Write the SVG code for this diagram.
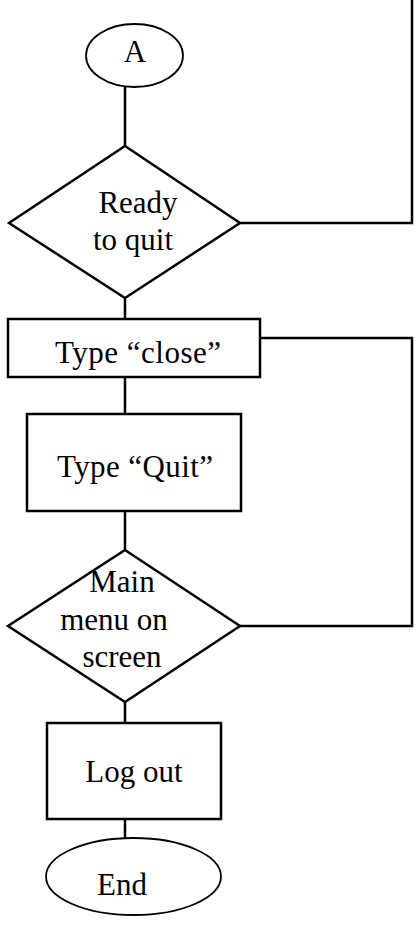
<svg xmlns="http://www.w3.org/2000/svg" width="416" height="928" viewBox="0 0 416 928">
  <style>
    .shape { fill: #ffffff; stroke: #000000; stroke-width: 2.5; }
    .oval { fill: #ffffff; stroke: #000000; stroke-width: 1.8; }
    .link { fill: none; stroke: #000000; stroke-width: 2.5; }
    .label { font-family: "Liberation Serif", "Times New Roman", serif; font-size: 31px; fill: #000000; text-anchor: middle; }
  </style>
  <rect width="416" height="928" fill="#ffffff"/>

  <!-- connectors -->
  <g id="connectors">
    <line class="link" x1="125" y1="87" x2="125" y2="146"/>
    <polyline class="link" points="240,223 412,223 412,0"/>
    <line class="link" x1="125" y1="298" x2="125" y2="319"/>
    <line class="link" x1="125" y1="377" x2="125" y2="414"/>
    <line class="link" x1="125" y1="511" x2="125" y2="550"/>
    <polyline class="link" points="240,626 412,626 412,338 260,338"/>
    <line class="link" x1="125" y1="702" x2="125" y2="723"/>
    <line class="link" x1="125" y1="819" x2="125" y2="838"/>
  </g>

  <g id="connector-a">
    <ellipse class="oval" cx="134.5" cy="55.5" rx="48.5" ry="31.5"/>
    <text class="label" x="135" y="62">A</text>
  </g>

  <g id="ready-to-quit">
    <polygon class="shape" points="125,146 240,223 125,298 9,223"/>
    <text class="label" x="138" y="213">Ready</text>
    <text class="label" x="133" y="250">to quit</text>
  </g>

  <g id="type-close">
    <rect class="shape" x="8" y="319" width="252" height="58"/>
    <text class="label" x="138" y="363" textLength="166" lengthAdjust="spacing">Type “close”</text>
  </g>

  <g id="type-quit">
    <rect class="shape" x="27" y="414" width="214" height="97"/>
    <text class="label" x="135" y="477" textLength="156" lengthAdjust="spacing">Type “Quit”</text>
  </g>

  <g id="main-menu-on-screen">
    <polygon class="shape" points="125,550 240,626 125,702 8,626"/>
    <text class="label" x="122" y="592">Main</text>
    <text class="label" x="114" y="630">menu on</text>
    <text class="label" x="122" y="667">screen</text>
  </g>

  <g id="log-out">
    <rect class="shape" x="47" y="723" width="174" height="96"/>
    <text class="label" x="134" y="782">Log out</text>
  </g>

  <g id="end">
    <ellipse class="oval" cx="133.5" cy="876.5" rx="87.5" ry="38.5"/>
    <text class="label" x="122" y="895">End</text>
  </g>
</svg>
